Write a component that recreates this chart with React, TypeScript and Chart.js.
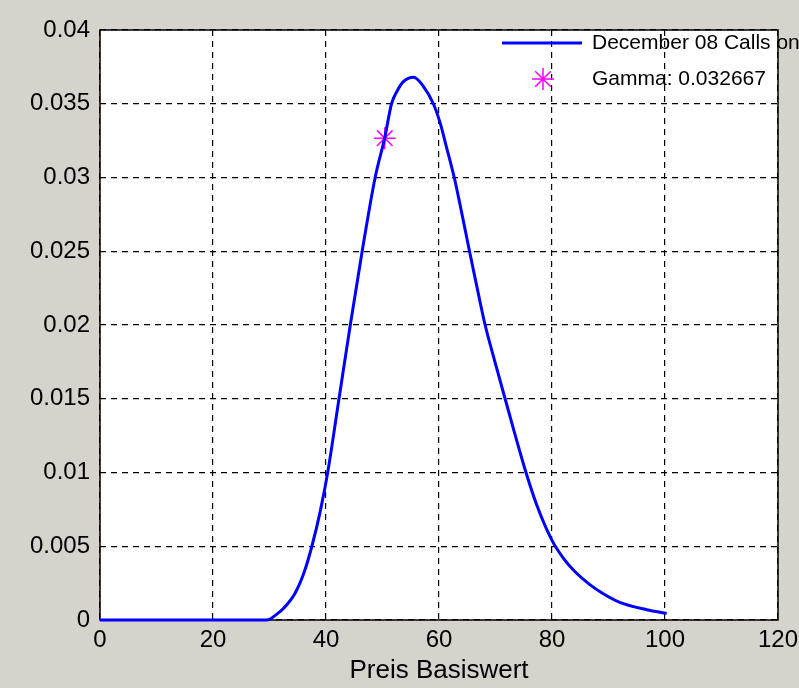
import React, { useEffect, useRef } from "react";
import { Chart, registerables } from "chart.js";

Chart.register(...registerables);

// Curve: December 08 Calls (gamma vs. underlying price)
const priceValues = [
  0, 10, 20, 29.5, 31.3, 32.5, 34.5, 36.1, 37.5, 39, 40.3, 42.3, 44.3, 46.4, 48.7,
  50.4, 51.6, 52.5, 53.7, 55.5, 57.2, 59.0, 60.2, 61.3, 62.7, 63.7, 65.4, 66.7,
  68.1, 69.9, 71.7, 75.4, 77.3, 80, 82, 84, 86.7, 89, 92, 96.8, 100.3,
];
const gammaValues = [
  0, 0, 0, 0, 0.0004, 0.0008, 0.0018, 0.0032, 0.005, 0.0074, 0.01, 0.015, 0.02, 0.025,
  0.03, 0.0327, 0.035, 0.0358, 0.0365, 0.0368, 0.0362, 0.035, 0.0337, 0.0321, 0.03,
  0.0282, 0.025, 0.0226, 0.0201, 0.0175, 0.015, 0.01, 0.0078, 0.0054, 0.0042, 0.0033,
  0.0024, 0.0018, 0.0012, 0.0007, 0.00045,
];

// Marked gamma point
const gammaPointX = [50.4];
const gammaPointY = [0.032667];

const seriesLabels = ["December 08 Calls on", "Gamma: 0.032667"];
const xAxisTitle = "Preis Basiswert";
const xTicks = [0, 20, 40, 60, 80, 100, 120];
const yTicks = [0, 0.005, 0.01, 0.015, 0.02, 0.025, 0.03, 0.035, 0.04];

const FONT = "'Liberation Sans', Arial, sans-serif";
const BG = "#d6d2cc";
const LINE_BLUE = "#0000ff";
const STAR_MAGENTA = "#ff00ff";

const backgroundPlugin = {
  id: "matlabBackground",
  beforeDraw(chart: any) {
    const { ctx, chartArea, width, height } = chart;
    ctx.save();
    ctx.fillStyle = BG;
    ctx.fillRect(0, 0, width, height);
    ctx.fillStyle = "#ffffff";
    ctx.fillRect(chartArea.left, chartArea.top, chartArea.right - chartArea.left, chartArea.bottom - chartArea.top);
    ctx.restore();
  },
  beforeDatasetsDraw(chart: any) {
    const { ctx, chartArea } = chart;
    ctx.save();
    ctx.strokeStyle = "#000000";
    ctx.lineWidth = 1.5;
    ctx.strokeRect(chartArea.left, chartArea.top, chartArea.right - chartArea.left, chartArea.bottom - chartArea.top);
    ctx.restore();
  },
};

function drawStar(ctx: CanvasRenderingContext2D, x: number, y: number, r: number) {
  ctx.beginPath();
  ctx.moveTo(x - r, y);
  ctx.lineTo(x + r, y);
  ctx.moveTo(x, y - r);
  ctx.lineTo(x, y + r);
  const d = r * Math.SQRT1_2;
  ctx.moveTo(x - d, y - d);
  ctx.lineTo(x + d, y + d);
  ctx.moveTo(x - d, y + d);
  ctx.lineTo(x + d, y - d);
  ctx.stroke();
}

const legendPlugin = {
  id: "matlabLegend",
  afterDraw(chart: any) {
    const { ctx, chartArea } = chart;
    const x0 = chartArea.right - 276;
    const y1 = chartArea.top + 13;
    const y2 = chartArea.top + 49;
    ctx.save();
    ctx.strokeStyle = LINE_BLUE;
    ctx.lineWidth = 3;
    ctx.beginPath();
    ctx.moveTo(x0, y1);
    ctx.lineTo(x0 + 80, y1);
    ctx.stroke();
    ctx.strokeStyle = STAR_MAGENTA;
    ctx.lineWidth = 1.5;
    drawStar(ctx, x0 + 41, y2, 11);
    ctx.fillStyle = "#000000";
    ctx.font = `21px ${FONT}`;
    ctx.textBaseline = "middle";
    ctx.textAlign = "left";
    ctx.fillText(seriesLabels[0], x0 + 90, y1);
    ctx.fillText(seriesLabels[1], x0 + 90, y2);
    ctx.restore();
  },
};

export default function App() {
  const canvasRef = useRef<HTMLCanvasElement | null>(null);

  useEffect(() => {
    document.body.style.margin = "0";
    const canvas = canvasRef.current;
    if (!canvas) return;
    const curve = priceValues.map((x, i) => ({ x, y: gammaValues[i] }));
    const point = gammaPointX.map((x, i) => ({ x, y: gammaPointY[i] }));
    const chart = new Chart(canvas, {
      type: "line",
      data: {
        datasets: [
          {
            label: seriesLabels[0],
            data: curve,
            borderColor: LINE_BLUE,
            backgroundColor: LINE_BLUE,
            borderWidth: 3,
            pointRadius: 0,
            cubicInterpolationMode: "monotone",
            clip: 6,
          },
          {
            label: seriesLabels[1],
            data: point,
            showLine: false,
            pointStyle: "star",
            pointRadius: 11,
            borderColor: STAR_MAGENTA,
            backgroundColor: STAR_MAGENTA,
            pointBorderWidth: 1.5,
            borderWidth: 1.5,
          },
        ],
      },
      options: {
        animation: false,
        responsive: false,
        maintainAspectRatio: false,
        layout: { padding: { left: 0, right: 21, top: 30, bottom: 0 } },
        plugins: {
          legend: { display: false },
          tooltip: { enabled: false },
        },
        scales: {
          x: {
            type: "linear",
            min: xTicks[0],
            max: xTicks[xTicks.length - 1],
            afterBuildTicks: (axis: any) => {
              axis.ticks = xTicks.map((v) => ({ value: v }));
            },
            afterFit: (axis: any) => {
              axis.height = 68;
              axis.paddingLeft = 0;
              axis.paddingRight = 0;
            },
            grid: {
              color: "#000000",
              lineWidth: 1.2,
              drawTicks: false,
              tickLength: 0,
            },
            border: { display: false, dash: [6, 5] },
            ticks: {
              color: "#000000",
              padding: 6,
              font: { family: FONT, size: 24 },
              maxRotation: 0,
              callback: (v: any) => String(v),
            },
            title: {
              display: true,
              text: xAxisTitle,
              color: "#000000",
              font: { family: FONT, size: 26 },
              padding: { top: 0, bottom: 2 },
            },
          },
          y: {
            type: "linear",
            min: yTicks[0],
            max: yTicks[yTicks.length - 1],
            afterBuildTicks: (axis: any) => {
              axis.ticks = yTicks.map((v) => ({ value: v }));
            },
            afterFit: (axis: any) => {
              axis.width = 100;
              axis.paddingTop = 0;
              axis.paddingBottom = 0;
            },
            grid: {
              color: "#000000",
              lineWidth: 1.2,
              drawTicks: false,
              tickLength: 0,
            },
            border: { display: false, dash: [6, 5] },
            ticks: {
              color: "#000000",
              padding: 10,
              font: { family: FONT, size: 24 },
              callback: (v: any) => String(+Number(v).toFixed(3)),
            },
          },
        },
      },
      plugins: [backgroundPlugin, legendPlugin],
    } as any);
    return () => chart.destroy();
  }, []);

  return (
    <div style={{ position: "fixed", left: 0, top: 0, width: 799, height: 688 }}>
      <canvas ref={canvasRef} width={799} height={688} style={{ width: 799, height: 688, display: "block" }} />
    </div>
  );
}
